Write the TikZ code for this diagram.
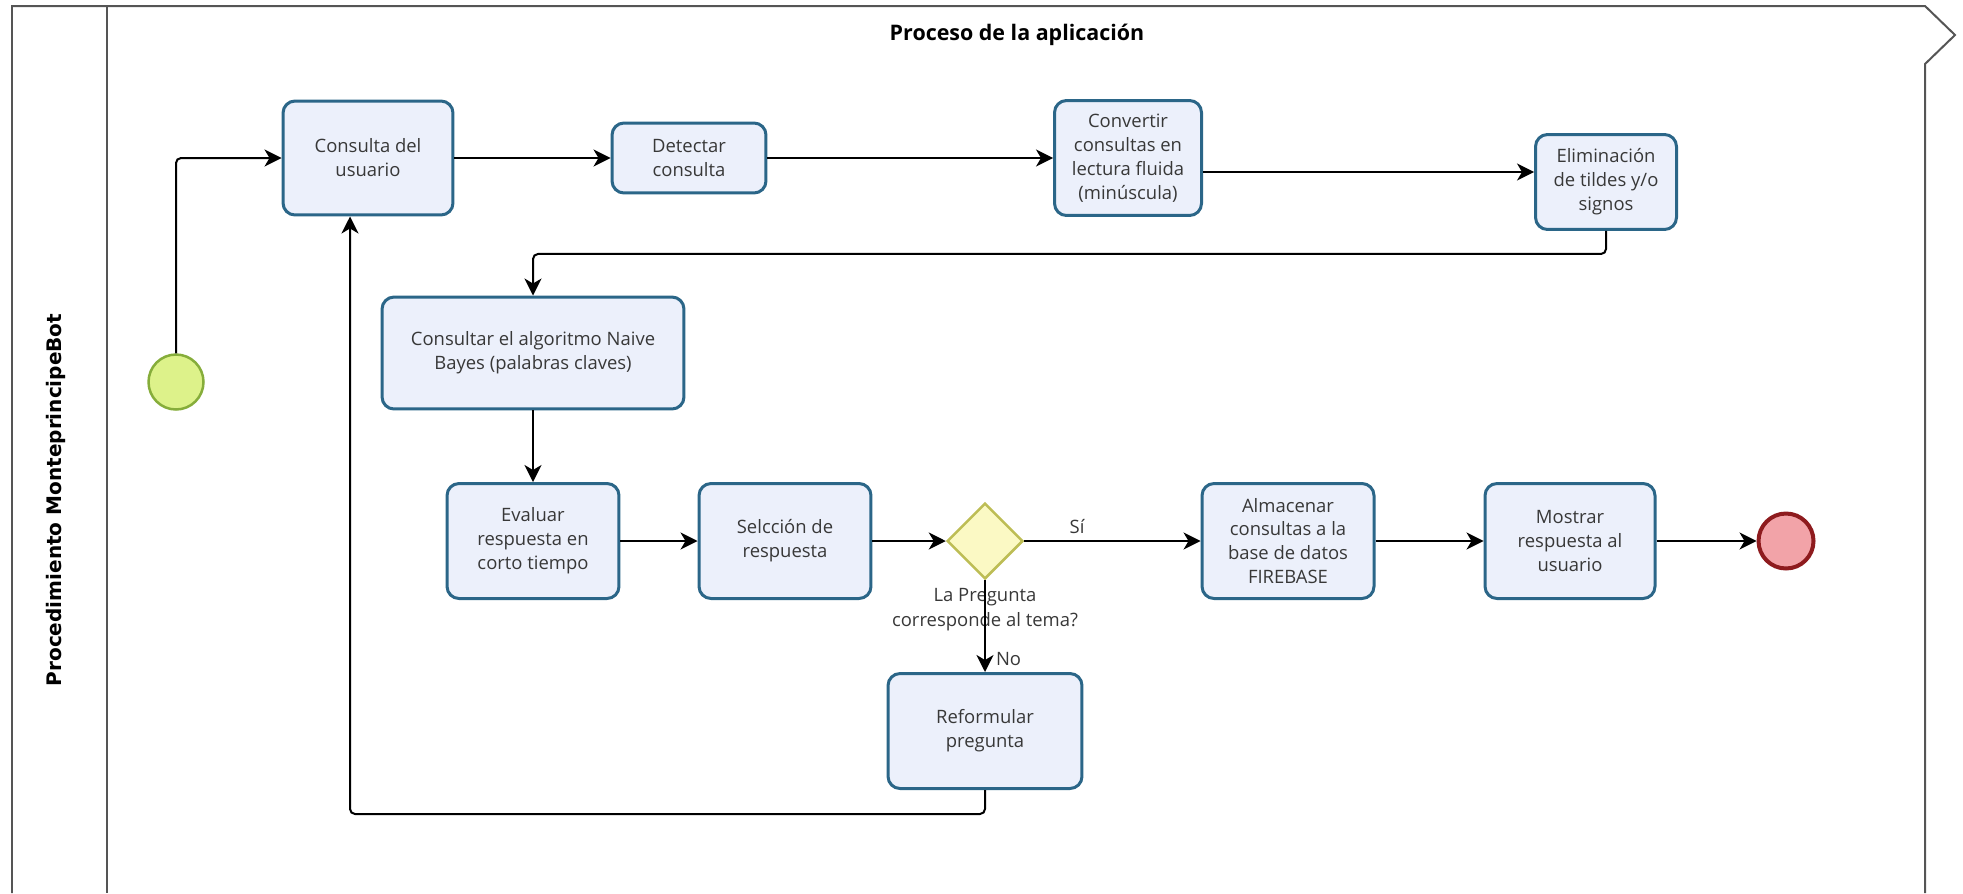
\documentclass[tikz,border=0pt]{standalone}
\usepackage{fontspec}
\setmainfont{Open Sans}
\newfontfamily\lanefont{DejaVu Sans}
\usepackage{xcolor}
\usetikzlibrary{shapes.geometric, arrows.meta, positioning, calc}

\definecolor{boxline}{HTML}{2B6688}
\definecolor{boxfill}{HTML}{ECF0FB}
\definecolor{textgray}{HTML}{383838}
\definecolor{frameline}{HTML}{555555}
\definecolor{startline}{HTML}{86AD3A}
\definecolor{startfill}{HTML}{DDF28A}
\definecolor{endline}{HTML}{8E1B1E}
\definecolor{endfill}{HTML}{F2A3A8}
\definecolor{gateline}{HTML}{BDBD55}
\definecolor{gatefill}{HTML}{FBF9C4}

\begin{document}
\begin{tikzpicture}[
        x=0.02cm, y=-0.02cm,
        >={Stealth[length=0.34cm, width=0.34cm, inset=0.1cm]},
        task/.style={rectangle, rounded corners=0.24cm, draw=boxline, fill=boxfill, line width=0.06cm,
            align=center, text=textgray, inner sep=2pt, font=\fontsize{10.5}{13.6}\selectfont},
        lbl/.style={text=textgray, align=center, inner sep=0pt, font=\fontsize{10.5}{14}\selectfont},
        event/.style={circle, minimum size=1.1cm, inner sep=0pt},
        flow/.style={->, line width=0.04cm, draw=black, rounded corners=0.1cm}
    ]
    \useasboundingbox (0,0) rectangle (1963,893);

    % pool
    \draw[frameline, line width=0.04cm] (12,893) |- (1925,6) -- (1955,35) -- (1925,64) -- (1925,893);
    \draw[frameline, line width=0.04cm] (107,6) -- (107,893);
    \node (lane) [rotate=90, font=\lanefont\bfseries\fontsize{11.4}{13}\selectfont] at (56,500) {Procedimiento MonteprincipeBot};
    \node (title) [font=\bfseries\fontsize{12.2}{14}\selectfont] at (1017,35) {Proceso de la aplicación};

    % events
    \node (ini) [event, draw=startline, fill=startfill, line width=0.05cm] at (176,382) {};
    \node (fin) [event, draw=endline, fill=endfill, line width=0.08cm] at (1786,541) {};

    % tasks
    \node (cons) [task, minimum width=3.4cm, minimum height=2.28cm] at (368,158) {Consulta del\\usuario};
    \node (detect) [task, minimum width=3.08cm, minimum height=1.4cm] at (689,158) {Detectar\\consulta};
    \node (conv) [task, minimum width=2.94cm, minimum height=2.3cm] at (1128,158) {Convertir\\consultas en\\lectura fluida\\(minúscula)};
    \node (elim) [task, minimum width=2.82cm, minimum height=1.9cm] at (1606,182) {Eliminación\\de tildes y/o\\signos};
    \node (bayes) [task, minimum width=6.04cm, minimum height=2.24cm] at (533,353) {Consultar el algoritmo Naive\\Bayes (palabras claves)};
    \node (eval) [task, minimum width=3.44cm, minimum height=2.3cm] at (533,541) {Evaluar\\respuesta en\\corto tiempo};
    \node (sel) [task, minimum width=3.44cm, minimum height=2.3cm] at (785,541) {Selcción de\\respuesta};
    \node (gate) [diamond, draw=gateline, fill=gatefill, line width=0.05cm, minimum width=1.52cm, minimum height=1.52cm, inner sep=0pt] at (985,541) {};
    \node (ask) [lbl, below=0.16cm of gate] {La Pregunta\\corresponde al tema?};
    \node (alm) [task, minimum width=3.44cm, minimum height=2.3cm] at (1288,541) {Almacenar\\consultas a la\\base de datos\\FIREBASE};
    \node (most) [task, minimum width=3.4cm, minimum height=2.3cm] at (1570,541) {Mostrar\\respuesta al\\usuario};
    \node (reform) [task, minimum width=3.88cm, minimum height=2.3cm] at (985,731) {Reformular\\pregunta};

    % flows
    \draw[flow] (ini) |- (cons);
    \draw[flow] (cons) -- (detect);
    \draw[flow] (detect) -- (conv);
    \draw[flow] ([yshift=-0.28cm]conv.east) -- ([yshift=-0.28cm]conv.east -| elim.west);
    \draw[flow] (elim.south) -- ++(0,23) -| (bayes.north);
    \draw[flow] (bayes) -- (eval);
    \draw[flow] (eval) -- (sel);
    \draw[flow] (sel) -- (gate);
    \draw[flow] (gate) -- node[lbl, pos=0.3, above=0.12cm] {Sí} (alm);
    \draw[flow] (gate) -- node[lbl, pos=0.86, right=0.2cm] {No} (reform);
    \draw[flow] (alm) -- (most);
    \draw[flow] (most) -- (fin);
    \draw[flow] (reform.south) -- ++(0,24) -| ([xshift=-0.36cm]cons.south);
\end{tikzpicture}
\end{document}
